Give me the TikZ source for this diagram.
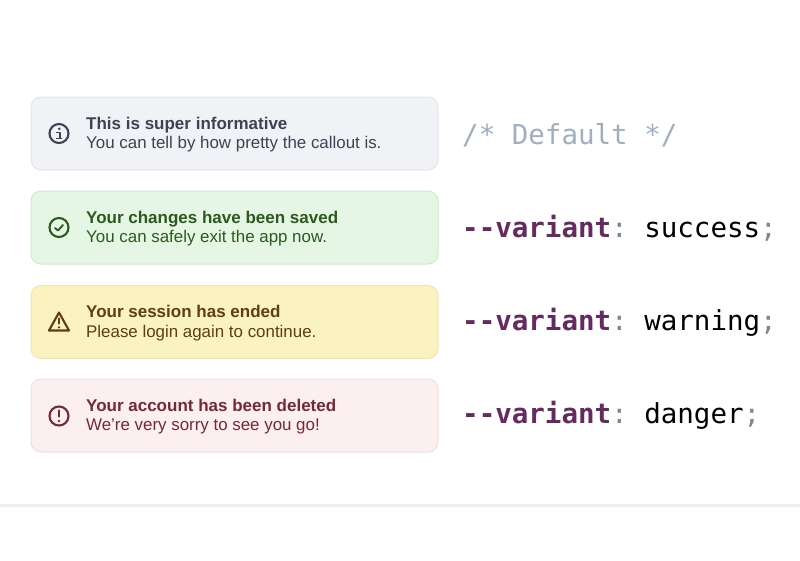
\documentclass[tikz,border=0pt]{standalone}
\usepackage{fontspec}
\setmainfont{Liberation Sans}
\setmonofont{DejaVu Sans Mono}
\definecolor{infofill}{HTML}{F1F2F5}
\definecolor{infoline}{HTML}{E3E5EA}
\definecolor{infotext}{HTML}{3D4350}
\definecolor{okfill}{HTML}{E6F6E4}
\definecolor{okline}{HTML}{CDEBC8}
\definecolor{oktext}{HTML}{2B5A1E}
\definecolor{warnfill}{HTML}{FAF2C1}
\definecolor{warnline}{HTML}{F3E5AE}
\definecolor{warntext}{HTML}{5E3D17}
\definecolor{dangerfill}{HTML}{FBEFEF}
\definecolor{dangerline}{HTML}{F5DEDE}
\definecolor{dangertext}{HTML}{742A33}
\definecolor{codekey}{HTML}{652B60}
\definecolor{codepunct}{HTML}{7B8794}
\definecolor{codecomment}{HTML}{A0AEC0}
\definecolor{rulegrey}{HTML}{EFEFF0}
\begin{document}
\begin{tikzpicture}[
            x = 1pt, y = -1pt,
            callout/.style={rounded corners=10pt, minimum width=407pt, minimum height=73pt, line width=1pt, inner sep=0pt},
            message/.style={anchor=west, align=left, inner sep=0pt, font=\fontsize{16.9}{19.5}\selectfont},
            icon/.style={circle, draw, line width=2.1pt, minimum size=19pt, inner sep=0pt},
            glyph/.style={line width=2.1pt, line cap=round, line join=round},
            code/.style={anchor=base west, inner sep=0pt, font=\fontsize{27.5}{30}\selectfont\ttfamily},
            ]
        \useasboundingbox (0,0) rectangle (800,560);

        \node[callout, fill=infofill, draw=infoline] (info) at (234.5,133.5) {};
        \node[callout, fill=okfill, draw=okline] (ok) at (234.5,227.5) {};
        \node[callout, fill=warnfill, draw=warnline] (warn) at (234.5,322) {};
        \node[callout, fill=dangerfill, draw=dangerline] (danger) at (234.5,415.5) {};

        \node[message, text=infotext] (infotxt) at (86,134.5) {\textbf{\fontsize{17}{19.5}\selectfont This is super informative}\\You can tell by how pretty the callout is.};
        \node[message, text=oktext] (oktxt) at (86,228.5) {\textbf{\fontsize{17}{19.5}\selectfont Your changes have been saved}\\You can safely exit the app now.};
        \node[message, text=warntext] (warntxt) at (86,323) {\textbf{\fontsize{17}{19.5}\selectfont Your session has ended}\\Please login again to continue.};
        \node[message, text=dangertext] (dangertxt) at (86,416.5) {\textbf{\fontsize{17}{19.5}\selectfont Your account has been deleted}\\We're very sorry to see you go!};

        \node[icon, draw=infotext] (infoicon) at (59,133.5) {};
        \draw[glyph, infotext, line width=1.8pt, line cap=butt] (56.3,132.5) -- (59.7,132.5) -- (59.7,138.5) (56.3,138.5) -- (62.3,138.5);
        \fill[infotext] (59.3,128.8) circle (1.4pt);

        \node[icon, draw=oktext] (okicon) at (59,227.5) {};
        \draw[glyph, oktext, line width=1.9pt] (55,228) -- (58,230.5) -- (63,225);

        \coordinate (warnicon) at (59,320);
        \draw[glyph, warntext] (59,312.5) -- (69,330.5) -- (49,330.5) -- cycle;
        \draw[glyph, warntext] (59,318.5) -- (59,323.5);
        \fill[warntext] (59,327.3) circle (1.3pt);

        \node[icon, draw=dangertext] (dangericon) at (59,416) {};
        \draw[glyph, dangertext] (59,410.5) -- (59,416.5);
        \fill[dangertext] (59,421) circle (1.3pt);

        \node[code, text=codecomment] (default) at (462,144) {/* Default */};
        \node[code, text=black] (success) at (462,237) {\textcolor{codekey}{\textbf{--variant}}\textcolor{codepunct}{:} success\textcolor{codepunct}{;}};
        \node[code, text=black] (warning) at (462,330) {\textcolor{codekey}{\textbf{--variant}}\textcolor{codepunct}{:} warning\textcolor{codepunct}{;}};
        \node[code, text=black] (dangercode) at (462,423) {\textcolor{codekey}{\textbf{--variant}}\textcolor{codepunct}{:} danger\textcolor{codepunct}{;}};

        \coordinate (ruleleft) at (0,505.5);
        \coordinate (ruleright) at (800,505.5);
        \draw[rulegrey, line width=3pt] (ruleleft) -- (ruleright);
    \end{tikzpicture}
\end{document}
